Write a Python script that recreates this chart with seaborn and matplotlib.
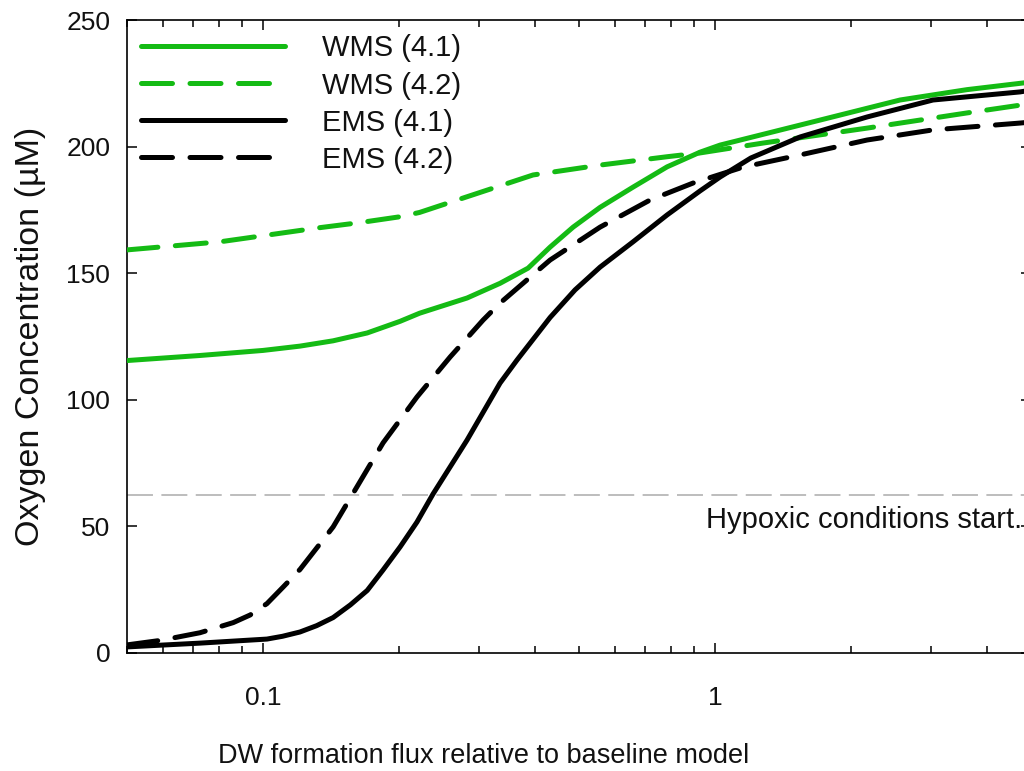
import matplotlib
matplotlib.use("Agg")
import matplotlib.pyplot as plt
import seaborn as sns
import pandas as pd
from matplotlib.ticker import FixedLocator, FixedFormatter, NullFormatter

# ---- data ----
wms41_x = [0.05, 0.0725, 0.1, 0.1207, 0.1429, 0.170, 0.201, 0.222, 0.2827, 0.3344,
           0.3858, 0.4315, 0.4853, 0.5567, 0.6586, 0.7831, 0.9264, 1.026, 1.542, 2.566,
           3.61, 5.0]
wms41_y = [115.5, 117.5, 119.5, 121.2, 123.3, 126.4, 131.0, 134.2, 140.2, 146.0,
           152.0, 160.3, 168.2, 176.0, 184.0, 192.0, 197.8, 200.6, 208.5, 218.4,
           222.5, 225.5]

wms42_x = [0.05, 0.0803, 0.1337, 0.164, 0.201, 0.222, 0.2827, 0.3957, 0.5567, 0.7831,
           0.9264, 1.277, 2.169, 3.61, 5.0]
wms42_y = [159.2, 162.4, 168.0, 170.0, 172.3, 174.0, 180.2, 188.8, 192.7, 196.0,
           197.5, 201.4, 207.3, 213.3, 217.0]

ems41_x = [0.05, 0.0725, 0.102, 0.1104, 0.1207, 0.1314, 0.1429, 0.156, 0.170, 0.1843,
           0.201, 0.219, 0.2377, 0.2827, 0.3344, 0.3646, 0.4315, 0.49, 0.5567, 0.6586,
           0.7831, 0.9264, 1.026, 1.2, 1.542, 2.169, 3.034, 4.73, 5.0]
ems41_y = [2.4, 3.9, 5.5, 6.6, 8.3, 10.8, 14.0, 19.0, 24.7, 32.8,
           41.9, 51.7, 62.8, 84.1, 106.6, 115.7, 132.5, 143.4, 152.4, 162.4,
           173.0, 182.5, 188.0, 195.5, 203.8, 211.7, 218.4, 221.6, 222.3]

ems42_x = [0.05, 0.0594, 0.0725, 0.0859, 0.0936, 0.102, 0.1107, 0.1207, 0.1429, 0.1574,
           0.1843, 0.219, 0.2593, 0.3068, 0.3344, 0.4315, 0.5567, 0.718, 0.8938, 1.153,
           1.542, 2.169, 3.034, 4.73, 5.0]
ems42_y = [3.2, 5.0, 8.0, 12.0, 15.0, 19.5, 26.0, 33.0, 49.8, 62.4,
           83.0, 101.1, 116.9, 131.5, 138.2, 155.2, 168.2, 178.9, 185.6, 191.9,
           196.7, 202.6, 206.6, 209.3, 209.7]

series_labels = ["WMS (4.1)", "WMS (4.2)", "EMS (4.1)", "EMS (4.2)"]
hypoxic_level = 62.5
y_ticks = [0, 50, 100, 150, 200, 250]
x_major = [0.1, 1]
x_major_labels = ["0.1", "1"]

# ---- style ----
sns.set_style("ticks")
plt.rcParams["font.family"] = ["Liberation Sans", "DejaVu Sans"]

GREEN = "#14BB14"
BLACK = "#000000"
LW = 3.6

fig = plt.figure(figsize=(10.24, 7.71), dpi=100)
ax = fig.add_axes([127 / 1024, (771 - 653) / 771, (1031 - 127) / 1024, (653 - 20) / 771])

data = [
    (wms41_x, wms41_y, series_labels[0], GREEN, False),
    (wms42_x, wms42_y, series_labels[1], GREEN, True),
    (ems41_x, ems41_y, series_labels[2], BLACK, False),
    (ems42_x, ems42_y, series_labels[3], BLACK, True),
]

ax.axhline(hypoxic_level, color="#ABABAB", lw=1.1, dashes=(17, 5.5), zorder=1)

for xs, ys, lab, col, dashed in data:
    df = pd.DataFrame({"x": xs, "y": ys})
    n0 = len(ax.lines)
    sns.lineplot(data=df, x="x", y="y", ax=ax, color=col, lw=LW, label=lab,
                 sort=False, estimator=None, zorder=3)
    ln = ax.lines[n0]
    ln.set_solid_capstyle("round")
    ln.set_dash_capstyle("round")
    ln.set_solid_joinstyle("round")
    if dashed:
        ln.set_dashes((6.2, 3.5))

ax.set_xscale("log")
ax.set_xlim(0.05, 5)
ax.set_ylim(0, 250)
ax.set_yticks(y_ticks)
ax.set_yticklabels([str(v) for v in y_ticks])
ax.xaxis.set_major_locator(FixedLocator(x_major))
ax.xaxis.set_major_formatter(FixedFormatter(x_major_labels))
minors = [0.05, 0.06, 0.07, 0.08, 0.09, 0.2, 0.3, 0.4, 0.5, 0.6, 0.7, 0.8, 0.9, 2, 3, 4, 5]
ax.xaxis.set_minor_locator(FixedLocator(minors))
ax.xaxis.set_minor_formatter(NullFormatter())

for sp in ax.spines.values():
    sp.set_linewidth(1.2)
    sp.set_color("black")
    sp.set_visible(True)

ax.tick_params(which="both", direction="in", top=True, right=True, width=1.1,
               colors="black", labelsize=19)
ax.tick_params(which="major", length=7)
ax.tick_params(which="minor", length=5)
ax.tick_params(axis="y", which="both", pad=12)
ax.tick_params(axis="x", which="both", pad=24)
for t in ax.get_xticklabels() + ax.get_yticklabels():
    t.set_color("#111111")

ax.set_xlabel("DW formation flux relative to baseline model", fontsize=19.5, color="#111111")
ax.xaxis.label.set_va("baseline")
ax.xaxis.set_label_coords((484 - 127) / 904, (653 - 763) / 633)
ax.set_ylabel("Oxygen Concentration (µM)", fontsize=24.5, color="#111111")
ax.yaxis.set_label_coords((46 - 127) / 904, 0.5)

ax.text(4.78, 49.4, "Hypoxic conditions start.", ha="right", va="baseline",
        fontsize=21, color="#111111")

leg = ax.legend(loc="upper left", bbox_to_anchor=(140.5 / 1024, (771 - 34.5) / 771),
                bbox_transform=fig.transFigure, frameon=False, fontsize=21,
                handlelength=4.97, handletextpad=1.25, labelspacing=0.31,
                borderpad=0, borderaxespad=0)
for t in leg.get_texts():
    t.set_color("#111111")

fig.savefig("out.png", dpi=100)
